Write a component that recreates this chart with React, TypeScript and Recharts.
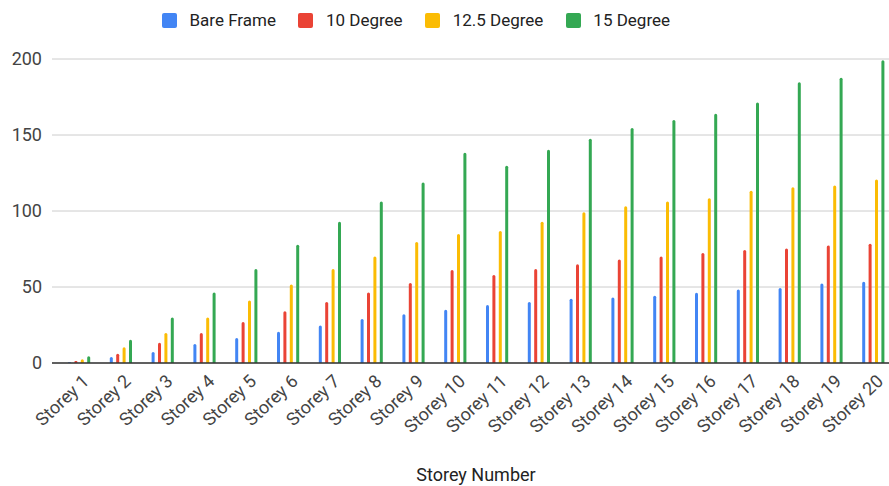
import React from 'react';
import { BarChart, Bar, XAxis, YAxis, CartesianGrid, Legend, Label } from 'recharts';

const categories = ['Storey 1', 'Storey 2', 'Storey 3', 'Storey 4', 'Storey 5', 'Storey 6', 'Storey 7', 'Storey 8', 'Storey 9', 'Storey 10', 'Storey 11', 'Storey 12', 'Storey 13', 'Storey 14', 'Storey 15', 'Storey 16', 'Storey 17', 'Storey 18', 'Storey 19', 'Storey 20'];
const bareFrame = [0.5, 3.9, 7.2, 12.5, 16.4, 20.6, 24.7, 28.9, 32, 35, 38.2, 40.1, 42.3, 43.1, 44.2, 46.2, 48.4, 49.3, 52.3, 53.4];
const degree10 = [1.3, 6.1, 13.3, 19.7, 27, 34, 40.1, 46.4, 52.6, 61.2, 57.9, 61.8, 64.9, 68.1, 70.1, 72.3, 74.3, 75.3, 77.3, 78.4];
const degree125 = [2.4, 10.3, 19.7, 30, 41.2, 51.7, 61.8, 70.1, 79.6, 84.9, 86.8, 93, 99.1, 103.2, 106.2, 108.4, 113.4, 115.7, 116.7, 120.7];
const degree15 = [4.4, 15.3, 30, 46.4, 61.8, 77.8, 92.9, 106.3, 118.8, 138.3, 129.8, 140.3, 147.6, 154.6, 159.9, 164, 171.3, 184.7, 187.7, 199.1];
const yTicks = [0, 50, 100, 150, 200];

const seriesNames = ['Bare Frame', '10 Degree', '12.5 Degree', '15 Degree'];
const seriesKeys = ['bare', 'd10', 'd125', 'd15'];
const seriesColors = ['#4285F4', '#EA4335', '#FBBC04', '#34A853'];

const data = categories.map((c, i) => ({
  name: c,
  bare: bareFrame[i],
  d10: degree10[i],
  d125: degree125[i],
  d15: degree15[i],
}));

const FONT = 'Roboto, "Liberation Sans", Arial, sans-serif';

const renderLegend = () => (
  <div style={{ position: 'relative', width: 900, height: 40, fontFamily: FONT, fontSize: 17, color: '#222' }}>
    <div style={{ display: 'flex', alignItems: 'center', paddingLeft: 162, height: 40 }}>
      {seriesNames.map((n, i) => (
        <div key={n} style={{ display: 'flex', alignItems: 'center', marginRight: 22.5 }}>
          <div style={{ width: 15, height: 15, borderRadius: 2, background: seriesColors[i], marginRight: 12.5 }} />
          <span style={{ lineHeight: '17px' }}>{n}</span>
        </div>
      ))}
    </div>
  </div>
);

const XTick = (props: any) => {
  const { x, y, payload } = props;
  return (
    <g transform={`translate(${x + 7},${y + 15})`}>
      <text transform="rotate(-43)" textAnchor="end" dy="0.35em" fill="#444" fontSize={18} fontFamily={FONT}>
        {payload.value}
      </text>
    </g>
  );
};

const XTitle = (props: any) => {
  const vb = props.viewBox || {};
  return (
    <text x={vb.x + vb.width / 2 + 3} y={vb.y + 111} textAnchor="middle" dominantBaseline="central" fill="#222" fontSize={18} fontFamily={FONT}>
      Storey Number
    </text>
  );
};

export default function App() {
  return (
    <div style={{ position: 'absolute', left: 0, top: 0, width: 889, height: 486, overflow: 'hidden', background: '#fff' }}>
      <BarChart width={900} height={486} data={data} margin={{ top: 19, right: 6, bottom: 0, left: 0 }} barSize={3} barGap={3.4}>
        <Legend verticalAlign="top" content={renderLegend} wrapperStyle={{ left: 0, top: 0, width: 900, height: 40 }} />
        <CartesianGrid vertical={false} stroke="#cccccc" />
        <XAxis
          dataKey="name"
          interval={0}
          tickLine={false}
          tickSize={0}
          tickMargin={0}
          axisLine={{ stroke: '#333333', strokeWidth: 1.5 }}
          padding={{ left: 6, right: 0 }}
          height={123}
          tick={<XTick />}
        >
          <Label content={<XTitle />} />
        </XAxis>
        <YAxis
          domain={[0, 200]}
          ticks={yTicks}
          width={52}
          tickLine={false}
          axisLine={false}
          tickSize={0}
          tickMargin={10}
          tick={{ fill: '#444', fontSize: 18, fontFamily: FONT }}
        />
        {seriesKeys.map((k, i) => (
          <Bar key={k} dataKey={k} name={seriesNames[i]} fill={seriesColors[i]} radius={[1.5, 1.5, 0, 0]} isAnimationActive={false} />
        ))}
      </BarChart>
    </div>
  );
}
